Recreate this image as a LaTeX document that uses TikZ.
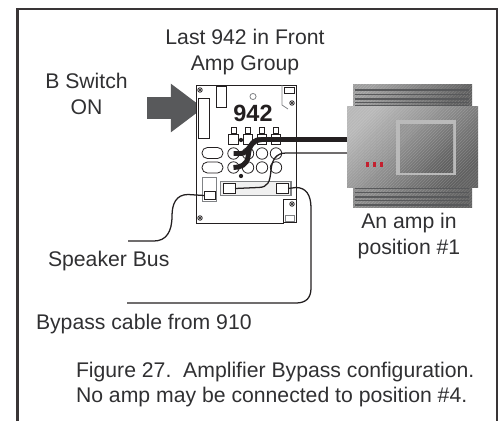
\documentclass[tikz,border=0pt]{standalone}
\usepackage{fontspec}
\setmainfont{Liberation Sans}
\usetikzlibrary{arrows.meta,shapes.arrows,patterns.meta}
\definecolor{inkblack}{HTML}{231F20}
\definecolor{textgrey}{HTML}{303032}
\definecolor{arrowgrey}{HTML}{58595B}
\definecolor{bargrey}{HTML}{808285}
\definecolor{ledred}{HTML}{C4202F}
\begin{document}
\begin{tikzpicture}[
            x=0.75pt, y=-0.75pt,
            font=\fontsize{15.9}{19.5}\selectfont,
            text=textgrey,
            label/.style={inner sep=0pt, outer sep=0pt, align=center},
            caption/.style={inner sep=0pt, outer sep=0pt, anchor=base west},
            part/.style={draw=inkblack, line width=0.6pt, fill=white, inner sep=0pt, outer sep=0pt},
            greypart/.style={part, draw=bargrey, line width=1pt},
            jack/.style={part, circle, minimum size=8.6pt},
            socket/.style={part, rounded corners=4pt, minimum width=15.8pt, minimum height=8.2pt},
            pin/.style={part, minimum width=3.6pt, minimum height=4.5pt},
            plug/.style={part, minimum width=7pt, minimum height=7.5pt},
            screw/.style={part, circle, minimum size=3.4pt, path picture={
                \draw[line width=0.35pt] (path picture bounding box.north west) -- (path picture bounding box.south east);
                \draw[line width=0.35pt] (path picture bounding box.north east) -- (path picture bounding box.south west);}},
            hatch/.style={postaction={opacity=0.22, pattern={Lines[angle=45,distance=1.6pt,line width=0.25pt]}, pattern color=white}},
            ampcase/.style={inner sep=0pt, outer sep=0pt, top color=#1, bottom color=black!62, shading angle=45, hatch},
            led/.style={fill=ledred, inner sep=0pt, minimum width=2.4pt, minimum height=3.8pt},
            thickcable/.style={draw=inkblack, line width=3.7pt},
            cable/.style={draw=inkblack, line width=0.95pt}
        ]
            \useasboundingbox (0,0) rectangle (498,421);
            \draw[inkblack!90, line width=2pt] (17.5,421) -- (17.5,9) -- (497.5,9) -- (497.5,421);

            \node[label] (lastamp) at (245,52.5) {Last 942 in Front\\Amp Group};
            \node[label] (bswitch) at (86.5,93.5) {B Switch\\ON};
            \node[label] (amplabel) at (409,236) {An amp in\\position \#1};
            \node[caption] (speakerlabel) at (48,266) {Speaker Bus};
            \node[caption] (bypasslabel) at (36,329) {Bypass cable from 910};
            \node[caption] (figline) at (76,377) {Figure 27.\ \ Amplifier Bypass configuration.};
            \node[caption] (noline) at (76,402) {No amp may be connected to position \#4.};

            \node[single arrow, fill=arrowgrey, inner xsep=0pt, inner ysep=7.9pt, outer sep=0pt, minimum height=42pt,
                single arrow head extend=10.1pt, single arrow tip angle=74] (switcharrow) at (168,108) {};

            \node[part, minimum width=74.5pt, minimum height=103.5pt] (board) at (246.5,154) {};
            \draw[bargrey, line width=0.6pt] (282,85) -- (282,105) -- (288,109);
            \node[part, minimum width=7.5pt, minimum height=4.5pt] (topslot) at (289,90) {};
            \node[part, minimum width=8.2pt, minimum height=30pt] (sideslot) at (203.5,118) {};
            \node[part, minimum width=7.5pt, minimum height=15.8pt] (topblock) at (221,96.5) {};
            \node[part, circle, draw=bargrey, minimum size=4.6pt] (ledhole) at (253,96.5) {};
            \node[inner sep=0pt, text=inkblack, font=\fontsize{17.6}{20}\selectfont\bfseries] (partno) at (253,113) {942};

            \node[part, draw=none, minimum width=11pt, minimum height=19pt] (cornergap) at (291,211.5) {};
            \draw[inkblack, line width=0.6pt] (283,223) -- (283,199) -- (296,199) -- (296,222) -- (283,222);
            \node[greypart, line width=0.6pt, minimum width=7pt, minimum height=5pt] (cornerslot) at (290,218.5) {};

            \foreach \n/\x in {a/233.5,b/248,c/262,d/276} {
                \node[pin] (pin\n) at (\x,130) {};
                \node[plug] (plug\n) at (\x,139.5) {};
                \node[jack] (jackup\n) at (\x,153.5) {};
                \node[jack] (jacklow\n) at (\x,167.5) {};
            }
            \node[socket] (socketup) at (212.5,153) {};
            \node[socket] (socketlow) at (212.5,167.5) {};
            \fill[inkblack] (241,140) circle (1.6pt) (241,176) circle (1.6pt);

            \node[greypart, minimum width=53pt, minimum height=10.5pt, fill=black!6] (bar) at (255.5,188.5) {};
            \node[part, minimum width=9pt, minimum height=7.2pt] (baryleft) at (229,188.5) {};
            \node[part, minimum width=9pt, minimum height=7.2pt] (baryright) at (282,188.5) {};
            \node[greypart, line width=0.6pt, minimum width=11pt, minimum height=18pt] (busblock) at (209.5,189) {};
            \node[part, line width=0.7pt, minimum width=8.2pt, minimum height=5.6pt] (busjack) at (209.5,195.5) {};

            \node[screw] (screwa) at (200,90) {};
            \node[screw] (screwb) at (292,103) {};
            \node[screw] (screwc) at (292,204) {};
            \node[screw] (screwd) at (200,218) {};

            \coordinate (ampthick) at (347,139.5);
            \coordinate (ampthin) at (347,153);
            \coordinate (speakerend) at (128,241);
            \coordinate (bypassend) at (127,303);

            \draw[thickcable] (ampthick) -- (262,139.5) .. controls (250,139.5) and (249,153.5) .. (241,153.5) -- (jackupa.center);
            \draw[thickcable] (260,139.5) .. controls (250,140.5) and (249,150) .. (248,157) .. controls (247,165) and (240,167.5) .. (jacklowa.center);
            \draw[cable] (ampthin) -- (286,153) .. controls (276,153) and (272,160) .. (271,170) .. controls (270,182) and (268,187.5) .. (258,187.5) -- (baryleft.east);
            \draw[cable] (baryright.east) -- (296,187.5) .. controls (306,187.5) and (311,195) .. (311,208) -- (311,288) .. controls (311,298) and (306,303) .. (296,303) -- (bypassend);
            \draw[cable] (busjack.west) -- (188,194.5) .. controls (176,194.5) and (172,204) .. (172,216) .. controls (172,232) and (166,241) .. (154,241) -- (speakerend);

            \node[ampcase=black!38, minimum width=89.25pt, minimum height=17pt] (ampfintop) at (412.5,96) {};
            \node[ampcase=black!45, minimum width=89.25pt, minimum height=15.5pt] (ampfinlow) at (412.5,197) {};
            \foreach \y in {90,94.5,99,102.5,106} {
                \draw[arrowgrey, line width=0.8pt] (355,\y) -- (469,\y);
            }
            \foreach \y in {188,192.5,197,200.5,205} {
                \draw[arrowgrey, line width=0.8pt] (355,\y) -- (469,\y);
            }
            \node[ampcase=black!28, minimum width=98.25pt, minimum height=60.75pt] (ampbody) at (412.5,146.5) {};
            \node[fill=black!27, inner sep=0pt, minimum width=45pt, minimum height=41.25pt] (ampscreen) at (426,147.5) {};
            \node[ampcase=black!42, minimum width=39.75pt, minimum height=36pt] (ampglass) at (426.5,148) {};
            \node[led] (leda) at (367.5,164.5) {};
            \node[led] (ledb) at (374.5,164.5) {};
            \node[led] (ledc) at (381.5,164.5) {};
        \end{tikzpicture}
\end{document}
